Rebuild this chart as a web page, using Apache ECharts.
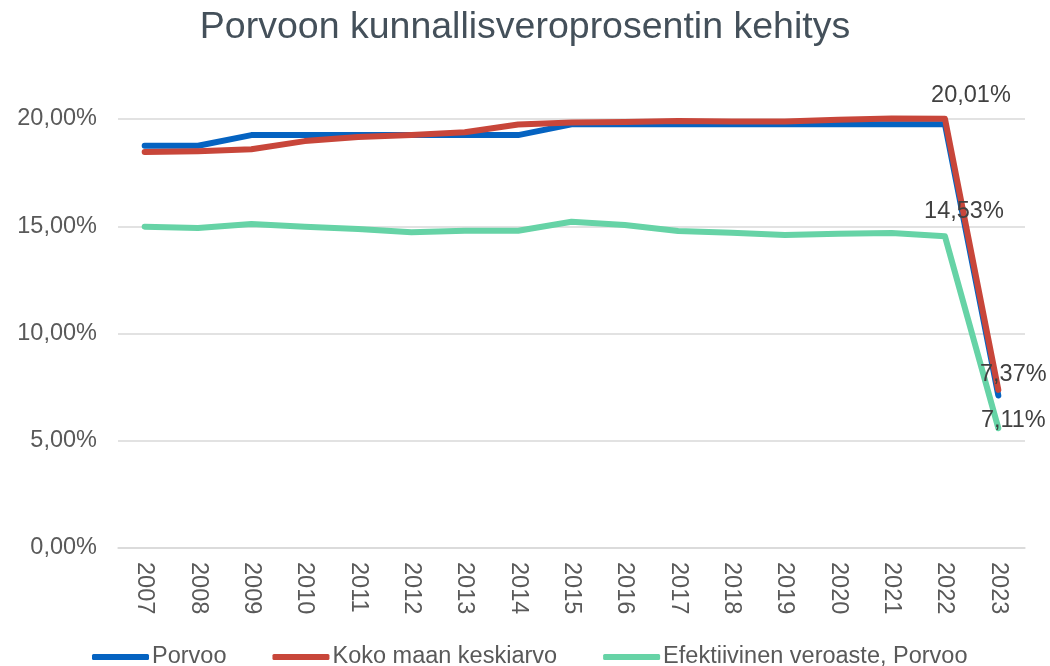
<!DOCTYPE html>
<html>
<head>
<meta charset="utf-8">
<script src="https://cdn.jsdelivr.net/npm/echarts@6/dist/echarts.min.js"></script>
<style>
  html, body { margin: 0; padding: 0; background: #fff; }
  #main { width: 1050px; height: 666px; }
</style>
</head>
<body>
<div id="main"></div>
<script>
const years = ["2007", "2008", "2009", "2010", "2011", "2012", "2013", "2014", "2015",
  "2016", "2017", "2018", "2019", "2020", "2021", "2022", "2023"];
const porvoo = [18.75, 18.75, 19.25, 19.25, 19.25, 19.25, 19.25, 19.25, 19.75,
  19.75, 19.75, 19.75, 19.75, 19.75, 19.75, 19.75, 7.11];
const kokoMaa = [18.46, 18.5, 18.59, 18.97, 19.16, 19.25, 19.38, 19.74, 19.84,
  19.86, 19.91, 19.88, 19.88, 19.97, 20.02, 20.01, 7.37];
const efektiivinen = [14.98, 14.92, 15.1, 14.98, 14.87, 14.72, 14.79, 14.79, 15.21,
  15.06, 14.78, 14.7, 14.59, 14.65, 14.69, 14.53, 5.59];
const yTicks = [0, 5, 10, 15, 20];

const font = "'Liberation Sans', Arial, sans-serif";
const fmt = (v) => v.toFixed(2).replace(".", ",") + "%";

// which points carry a data label, and where
function withLabels(values, marks) {
  return values.map((v, i) => {
    const m = marks[i];
    if (!m) return v;
    return {
      value: v,
      label: {
        show: true,
        position: m.pos,
        offset: m.offset,
        formatter: (p) => fmt(p.value),
        color: "#404040",
        fontSize: 23.5,
        fontFamily: font,
      },
    };
  });
}

const chart = echarts.init(document.getElementById("main"));

const line = (name, color, data) => ({
  name: name,
  type: "line",
  data: data,
  showSymbol: true,
  symbol: "circle",
  symbolSize: 0,
  clip: false,
  lineStyle: { color: color, width: 6, cap: "round", join: "round" },
  itemStyle: { color: color },
});

chart.setOption({
  animation: false,
  title: {
    text: "Porvoon kunnallisveroprosentin kehitys",
    left: "center",
    top: 4,
    textStyle: { fontSize: 37.5, fontWeight: "normal", color: "#44505a", fontFamily: font },
  },
  grid: { left: 118, right: 25, top: 119, bottom: 118 },
  legend: {
    top: 640,
    left: 87,
    itemWidth: 57,
    itemHeight: 6,
    itemGap: 46,
    icon: "roundRect",
    textStyle: { fontSize: 23.5, color: "#595959", fontFamily: font, padding: [0, 0, 0, -2] },
    data: ["Porvoo", "Koko maan keskiarvo", "Efektiivinen veroaste, Porvoo"],
  },
  xAxis: {
    type: "category",
    data: years,
    axisLine: { lineStyle: { color: "#d9d9d9", width: 1.5 } },
    axisTick: { show: false },
    axisLabel: { rotate: -90, margin: 14, fontSize: 23.5, color: "#595959", fontFamily: font },
  },
  yAxis: {
    type: "value",
    min: yTicks[0],
    max: yTicks[yTicks.length - 1],
    interval: 5,
    axisLine: { show: false },
    axisTick: { show: false },
    splitLine: { lineStyle: { color: "#d9d9d9", width: 1.5 } },
    axisLabel: { formatter: (v) => fmt(v), margin: 21, fontSize: 23.5, color: "#595959", fontFamily: font },
  },
  series: [
    line("Porvoo", "#0563c1", withLabels(porvoo, { 16: { pos: "bottom", offset: [15, 8] } })),
    line("Koko maan keskiarvo", "#c8463a", withLabels(kokoMaa, {
      15: { pos: "top", offset: [26, -6] },
      16: { pos: "top", offset: [15, 2] },
    })),
    line("Efektiivinen veroaste, Porvoo", "#66d3a6", withLabels(efektiivinen, {
      15: { pos: "top", offset: [19, -8] },
    })),
  ],
});
</script>
</body>
</html>
